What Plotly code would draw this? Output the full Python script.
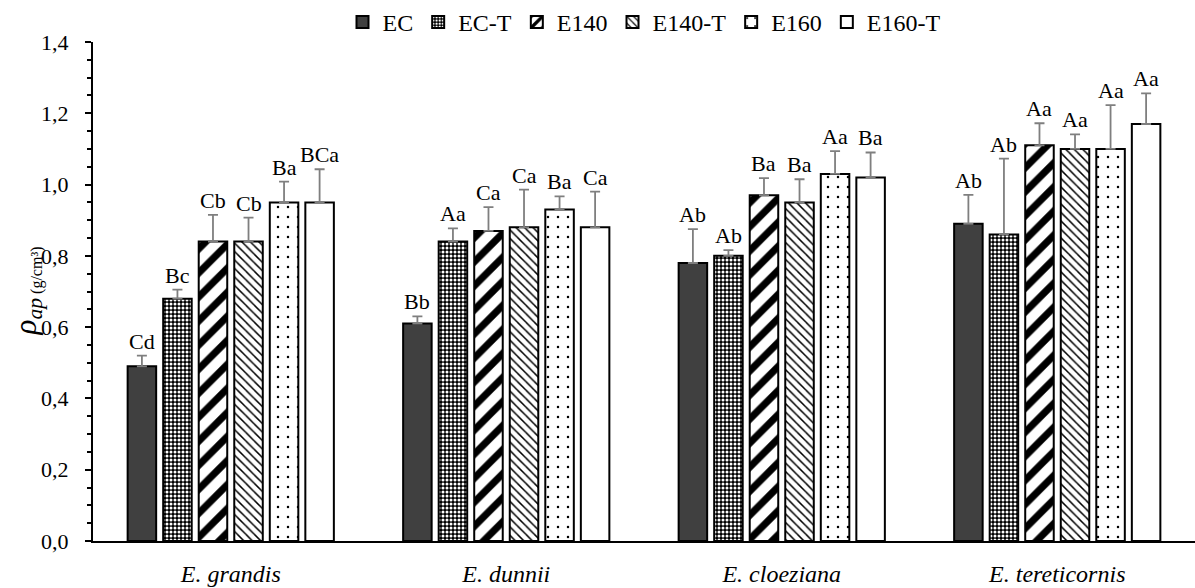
import plotly.graph_objects as go

categories = ["E. grandis", "E. dunnii", "E. cloeziana", "E. tereticornis"]
series = ["EC", "EC-T", "E140", "E140-T", "E160", "E160-T"]

# mean values per series (one value per category)
values = {
    "EC":     [0.49, 0.61, 0.78, 0.89],
    "EC-T":   [0.68, 0.84, 0.80, 0.86],
    "E140":   [0.84, 0.87, 0.97, 1.11],
    "E140-T": [0.84, 0.88, 0.95, 1.10],
    "E160":   [0.95, 0.93, 1.03, 1.10],
    "E160-T": [0.95, 0.88, 1.02, 1.17],
}
# upper error (standard deviation)
errors = {
    "EC":     [0.030, 0.020, 0.095, 0.081],
    "EC-T":   [0.025, 0.037, 0.016, 0.213],
    "E140":   [0.075, 0.067, 0.048, 0.062],
    "E140-T": [0.067, 0.106, 0.065, 0.041],
    "E160":   [0.058, 0.037, 0.064, 0.123],
    "E160-T": [0.093, 0.100, 0.070, 0.086],
}
# statistical letters
letters = {
    "EC":     ["Cd", "Bb", "Ab", "Ab"],
    "EC-T":   ["Bc", "Aa", "Ab", "Ab"],
    "E140":   ["Cb", "Ca", "Ba", "Aa"],
    "E140-T": ["Cb", "Ca", "Ba", "Aa"],
    "E160":   ["Ba", "Ba", "Aa", "Aa"],
    "E160-T": ["BCa", "Ca", "Ba", "Aa"],
}
y_ticks = [0.0, 0.2, 0.4, 0.6, 0.8, 1.0, 1.2, 1.4]
y_ticktext = ["0,0", "0,2", "0,4", "0,6", "0,8", "1,0", "1,2", "1,4"]

# styles
def pat(shape, fg, bg, size, solidity):
    return dict(shape=shape, fgcolor=fg, bgcolor=bg, size=size, solidity=solidity,
                fgopacity=1, fillmode="replace")

styles = {
    "EC":     dict(color="#404040", pattern=dict(shape="")),
    "EC-T":   dict(color="black", pattern=pat(".", "white", "black", 4, 0.45)),
    "E140":   dict(color="white", pattern=pat("/", "black", "white", 17, 0.42)),
    "E140-T": dict(color="white", pattern=pat("\\", "black", "white", 6, 0.25)),
    "E160":   dict(color="white", pattern=pat(".", "black", "white", 10, 0.05)),
    "E160-T": dict(color="white", pattern=dict(shape="")),
}

PITCH = 0.129
WIDTH = 0.1035
FONT = "Liberation Serif, Times New Roman, serif"

fig = go.Figure()
annotations = []
n = len(series)
for j, s in enumerate(series):
    xs = [i + (j - (n - 1) / 2) * PITCH for i in range(len(categories))]
    fig.add_trace(go.Bar(
        name=s, x=xs, y=values[s], width=WIDTH,
        marker=dict(color=styles[s]["color"], pattern=styles[s]["pattern"],
                    line=dict(color="black", width=2)),
        error_y=dict(type="data", array=errors[s], arrayminus=[0] * len(categories),
                     symmetric=False, color="#7f7f7f", thickness=1.8, width=5),
    ))
    for i, x in enumerate(xs):
        annotations.append(dict(
            x=x, y=values[s][i] + errors[s][i], xref="x", yref="y",
            text=letters[s][i], showarrow=False, yanchor="bottom", yshift=0,
            font=dict(family=FONT, size=22, color="black"),
        ))

annotations.append(dict(
    x=0, y=0.5, xref="paper", yref="paper", xanchor="center", yanchor="middle",
    xshift=-66, textangle=-90, showarrow=False,
    text='<i>ρ</i><sub><i>ap</i><span style="font-size:16px"> (g/cm³)</span></sub>',
    font=dict(family=FONT, size=31, color="black"),
))

fig.update_layout(
    width=1195, height=588,
    margin=dict(l=93, r=0, t=40, b=47),
    paper_bgcolor="white", plot_bgcolor="white",
    font=dict(family=FONT, size=22, color="black"),
    showlegend=True,
    legend=dict(orientation="h", x=0.5, xanchor="center", y=1.04, yanchor="middle",
                font=dict(family=FONT, size=24), traceorder="normal",
                itemwidth=30, bgcolor="rgba(0,0,0,0)"),
    annotations=annotations,
    xaxis=dict(range=[-0.5, len(categories) - 0.5], tickvals=list(range(len(categories))),
               ticktext=[f"<i>{c}</i>" for c in categories],
               showline=True, linecolor="black", linewidth=2, ticks="",
               showgrid=False, zeroline=False, tickfont=dict(family=FONT, size=24),
               ticklabelstandoff=10),
    yaxis=dict(range=[0, 1.4], tickvals=y_ticks, ticktext=y_ticktext,
               showline=True, linecolor="black", linewidth=2,
               ticks="outside", ticklen=6, tickwidth=1.8, tickcolor="black",
               minor=dict(dtick=0.05, ticks="outside", ticklen=4, tickwidth=1.6, tickcolor="black"),
               showgrid=False, zeroline=False, tickfont=dict(family=FONT, size=22),
               ticklabelstandoff=12),
)

fig.write_html("out.html")
